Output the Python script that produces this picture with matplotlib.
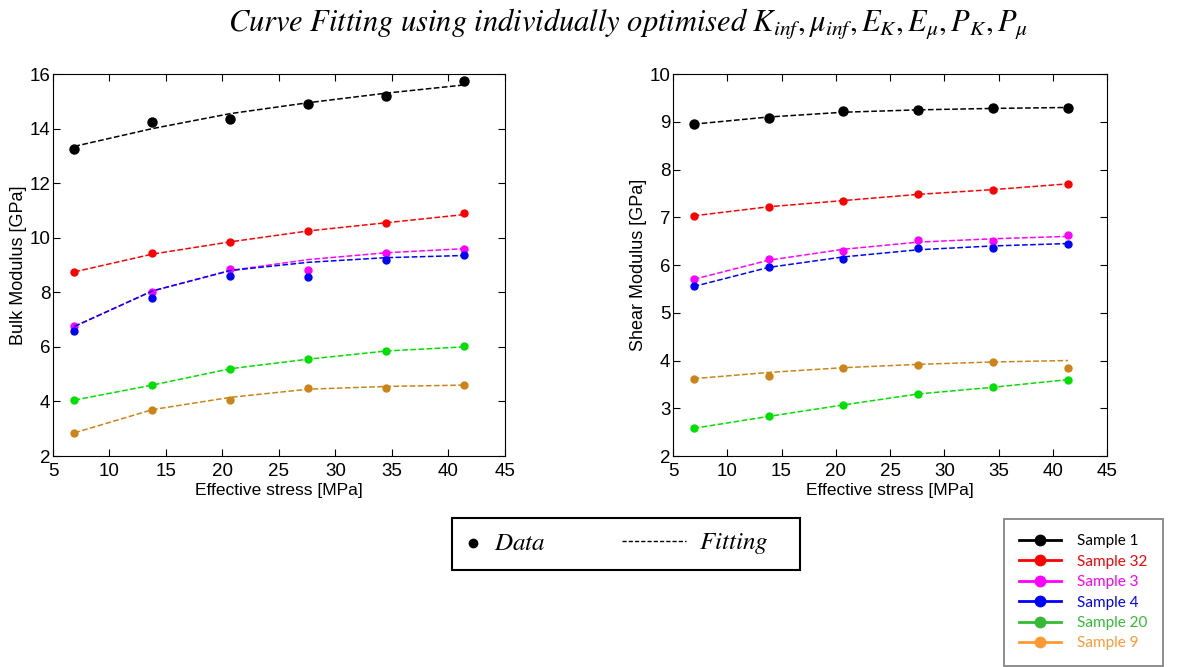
import matplotlib.pyplot as plt
from matplotlib.lines import Line2D
from matplotlib.patches import Rectangle

plt.rcParams['font.family'] = ['Liberation Sans', 'DejaVu Sans']
plt.rcParams['mathtext.fontset'] = 'stix'

# effective stress [MPa]
stress = [6.9, 13.8, 20.7, 27.6, 34.5, 41.4]

samples = ['Sample 1', 'Sample 32', 'Sample 3', 'Sample 4', 'Sample 20', 'Sample 9']
plot_colors = ['black', 'red', 'magenta', 'blue', '#00e000', '#cc8418']
legend_colors = ['black', 'red', 'magenta', 'blue', '#33bb33', '#ff9933']

# bulk modulus [GPa]
bulk_data = [
    [13.25, 14.25, 14.35, 14.9, 15.2, 15.75],
    [8.75, 9.45, 9.85, 10.25, 10.55, 10.9],
    [6.75, 8.0, 8.85, 8.8, 9.45, 9.6],
    [6.6, 7.8, 8.6, 8.55, 9.2, 9.35],
    [4.05, 4.6, 5.2, 5.55, 5.85, 6.05],
    [2.85, 3.7, 4.05, 4.5, 4.5, 4.6],
]
bulk_fit = [
    [13.35, 14.0, 14.55, 14.95, 15.3, 15.6],
    [8.75, 9.4, 9.85, 10.25, 10.55, 10.85],
    [6.75, 8.05, 8.8, 9.2, 9.45, 9.6],
    [6.75, 8.05, 8.8, 9.1, 9.27, 9.35],
    [4.05, 4.6, 5.2, 5.55, 5.85, 6.0],
    [2.85, 3.7, 4.15, 4.45, 4.55, 4.6],
]

# shear modulus [GPa]
shear_data = [
    [8.95, 9.07, 9.22, 9.25, 9.28, 9.28],
    [7.03, 7.22, 7.35, 7.48, 7.58, 7.7],
    [5.7, 6.12, 6.3, 6.52, 6.5, 6.62],
    [5.57, 5.95, 6.12, 6.35, 6.35, 6.45],
    [2.58, 2.83, 3.07, 3.3, 3.44, 3.6],
    [3.62, 3.68, 3.85, 3.91, 3.96, 3.85],
]
shear_fit = [
    [8.95, 9.1, 9.2, 9.25, 9.28, 9.3],
    [7.03, 7.22, 7.35, 7.48, 7.58, 7.7],
    [5.7, 6.1, 6.33, 6.48, 6.55, 6.6],
    [5.55, 5.95, 6.17, 6.32, 6.4, 6.45],
    [2.58, 2.83, 3.07, 3.3, 3.44, 3.6],
    [3.62, 3.75, 3.85, 3.92, 3.97, 4.0],
]

W, H = 1182, 667
fig = plt.figure(figsize=(W / 100, H / 100), dpi=100)
ax1 = fig.add_axes([0.0448, 0.3163, 0.3824, 0.5727])
ax2 = fig.add_axes([0.5694, 0.3163, 0.3672, 0.5727])


def draw(ax, data, fit, ylim, ylabel):
    for i in range(len(samples)):
        ms = 6.5 if i == 0 else 5
        ax.plot(stress, fit[i], '--', color=plot_colors[i], lw=1.1, zorder=3)
        ax.plot(stress, data[i], 'o', color=plot_colors[i], ms=ms, zorder=2)
    ax.set_xlim(5, 45)
    ax.set_ylim(*ylim)
    ax.set_xticks(range(5, 46, 5))
    ax.tick_params(direction='in', top=True, right=True, labelsize=13.5,
                   length=5)
    ax.tick_params(axis='x', pad=5)
    ax.tick_params(axis='y', pad=2)
    ax.set_xlabel('Effective stress [MPa]', fontsize=12.5, labelpad=2)
    ax.set_ylabel(ylabel, fontsize=13, labelpad=2)


draw(ax1, bulk_data, bulk_fit, (2, 16), 'Bulk Modulus [GPa]')
draw(ax2, shear_data, shear_fit, (2, 10), 'Shear Modulus [GPa]')

fig.text(0.531, 0.963,
         r'$Curve\ Fitting\ using\ individually\ optimised\ K_{inf}, \mu_{inf}, E_K, E_\mu, P_K, P_\mu$',
         ha='center', va='center', fontsize=22)


# Data / Fitting key box (pixel positions -> figure fraction)
def fx(px):
    return px / W


def fy(py):
    return 1 - py / H


fig.add_artist(Rectangle((fx(452), fy(570)), fx(348), 52 / H,
                         transform=fig.transFigure, fill=False,
                         lw=1.5, ec='black'))
fig.add_artist(Line2D([fx(473)], [fy(543)], ls='none', marker='o',
                      color='black', ms=6, transform=fig.transFigure))
fig.text(fx(494), fy(543), r'$Data$', fontsize=18, ha='left', va='center')
fig.add_artist(Line2D([fx(622), fx(686)], [fy(541), fy(541)], ls='--',
                      dashes=(3, 1.5), color='black', lw=1,
                      transform=fig.transFigure))
fig.text(fx(699), fy(543), r'$Fitting$', fontsize=18, ha='left', va='center')

# sample legend
sample_handles = [Line2D([], [], color=c, marker='o', ms=7.5, lw=2)
                  for c in legend_colors]
leg2 = fig.legend(sample_handles, samples, loc='upper left',
                  bbox_to_anchor=(fx(1004), fy(519)),
                  prop={'family': 'Lato', 'size': 11},
                  handlelength=2.7, frameon=True, fancybox=False,
                  edgecolor='#666666', labelspacing=0.42, borderpad=1.0,
                  handletextpad=1.1, borderaxespad=0)
leg2.get_frame().set_linewidth(1.3)
for text, c in zip(leg2.get_texts(), legend_colors):
    text.set_color(c)

fig.savefig('out.png', dpi=100)
